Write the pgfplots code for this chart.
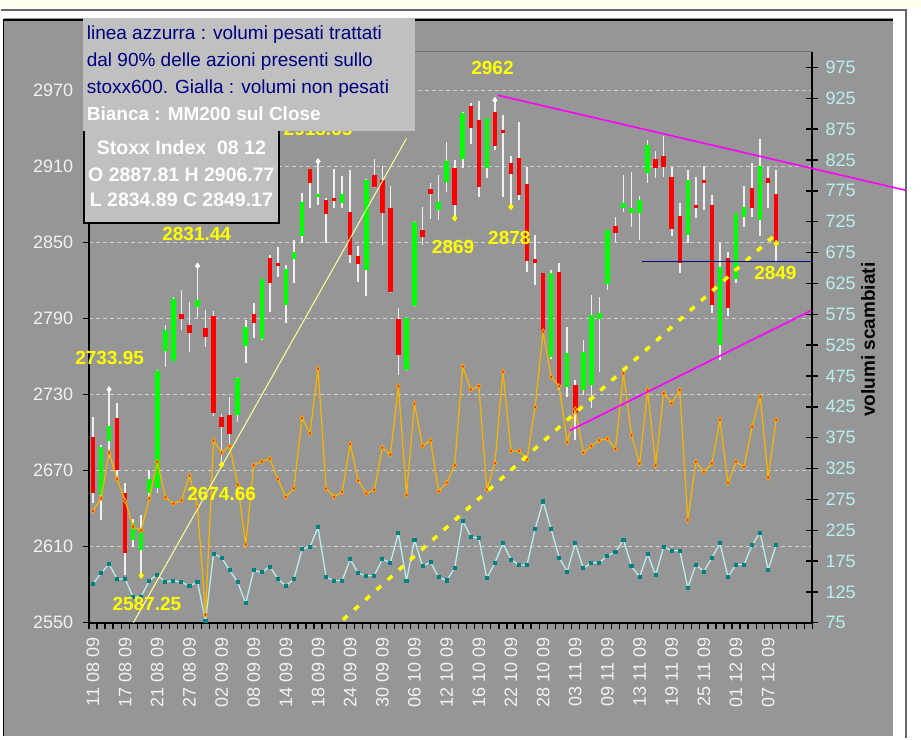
\documentclass[border=0pt]{standalone}
\usepackage{pgfplots}
\pgfplotsset{compat=1.18}
\usepackage{pgfplotstable}
\usepackage{fontspec}
\setmainfont{Liberation Sans}
\definecolor{bggray}{RGB}{150,150,150}
\definecolor{boxgray}{RGB}{192,192,192}
\definecolor{gridgray}{RGB}{205,205,205}
\definecolor{candred}{RGB}{255,0,0}
\definecolor{candgreen}{RGB}{0,255,0}
\definecolor{wick}{RGB}{240,240,240}
\definecolor{volorange}{RGB}{245,180,0}
\definecolor{volred}{RGB}{255,40,0}
\definecolor{cyanline}{RGB}{185,235,235}
\definecolor{tealmk}{RGB}{0,128,128}
\definecolor{navytext}{RGB}{0,0,128}
\definecolor{magentaline}{RGB}{255,0,255}
\definecolor{paleyellow}{RGB}{255,255,150}
\definecolor{annoyellow}{RGB}{255,255,0}
\definecolor{ticklight}{RGB}{242,242,242}
\definecolor{tickcyan}{RGB}{185,240,240}
\definecolor{topstrip}{RGB}{255,255,238}

\pgfplotstableread{
i O H L C
1 2650.8 2690.2 2631.1 2688.9
2 2693.4 2733.95 2680 2705.4
5 2615.4 2632 2610 2629
6 2607.5 2635 2587.25 2623.3
7 2652.2 2670.5 2648 2663.4
8 2656.1 2749.3 2652.2 2748.5
9 2764.4 2784.7 2751.9 2781
10 2756.4 2807 2756 2805
13 2799.2 2831.44 2790 2804.4
18 2713.8 2744 2708.6 2743.2
19 2768.2 2788.7 2754.6 2782.8
21 2773.5 2821 2773 2820.7
24 2800.5 2832 2786.5 2828.9
25 2836.5 2851.7 2817.6 2842.5
26 2854.8 2889 2849.6 2881.9
28 2886 2913.65 2879.3 2888
31 2881 2902 2876.7 2887.7
34 2828 2899.5 2807.6 2899
39 2749.3 2791 2748.5 2790.5
40 2799.7 2866.5 2799 2866.2
43 2875.3 2902.9 2867.5 2881.9
44 2897.6 2929.2 2889.7 2914.2
46 2915.3 2952.5 2908.2 2952
49 2908.7 2948 2900.3 2947.6
57 2759.8 2828 2758 2825.5
59 2736.2 2783.4 2728.3 2762.4
61 2733.5 2772.9 2729.6 2763.7
62 2737.5 2808.4 2719.1 2792.6
63 2789.2 2807 2748 2794.4
64 2817 2860 2812.3 2859.6
66 2876.7 2902.9 2874 2880.6
67 2872.7 2905.6 2862.2 2876.7
68 2872.7 2886.4 2851.7 2883.2
69 2904.8 2930.5 2896.4 2926.6
74 2855.6 2906.8 2849.1 2899
78 2769 2849.6 2757.2 2830.7
80 2820.7 2873 2817.6 2872.7
81 2870 2894.2 2861.7 2877.9
83 2867.5 2931 2854.8 2909.9
}\gcandles

\pgfplotstableread{
i O H L C
0 2696.7 2712.5 2644.3 2652.2
3 2711.2 2723.5 2664 2670.5
4 2652.2 2660 2588 2604.9
11 2793.4 2812.3 2780.8 2789.2
12 2784.7 2803 2763.7 2778.2
14 2782 2796.5 2767.6 2775.5
15 2791.8 2796 2713 2715.1
16 2712.5 2715 2674.66 2704.1
17 2713.8 2727.8 2691 2698.6
20 2793.4 2801.8 2774.2 2786.5
22 2837.3 2840 2795 2818.1
23 2833.4 2846.4 2822.8 2831.2
27 2907.4 2908 2876.7 2896.4
29 2883.5 2884.5 2849.6 2872.5
30 2885 2907.4 2876.7 2882.6
32 2874 2906.8 2833.8 2839.9
33 2839.1 2847 2818.8 2832.5
35 2902.9 2915.3 2893 2893.7
36 2899 2910 2847.7 2873.2
37 2876.7 2894.5 2810 2811
38 2789.2 2798.4 2745.4 2761.1
41 2859.6 2878 2847.7 2853.8
42 2891.7 2896.9 2868 2888
45 2908.2 2914.7 2869 2879.3
47 2957.2 2959.4 2927.3 2939.7
48 2946.2 2961.4 2885.3 2893.2
50 2952.8 2962 2923.1 2925.8
51 2938.3 2950.1 2885.3 2936.5
52 2912.7 2917.9 2878 2903.5
53 2916.6 2944.9 2883.2 2887.1
54 2895.7 2909 2826.7 2835.3
55 2836.5 2855.6 2816.3 2833.8
56 2825.5 2826 2776 2778.2
58 2826.7 2833.8 2733.5 2737.5
60 2737.5 2741.4 2694.2 2715.2
65 2862.7 2870 2850.3 2857.4
70 2915.3 2921.9 2900.3 2908.2
71 2917.9 2933.6 2901.6 2909
72 2901.6 2909 2854.8 2860.1
73 2870.8 2880.6 2825.5 2833.8
75 2879.3 2901.6 2868.8 2876.7
76 2899 2910 2875.3 2896.4
77 2879.3 2887.1 2794.4 2800.5
79 2837.3 2842.5 2791.8 2797.9
82 2892.5 2912.1 2870 2876.7
84 2900.3 2909 2876.7 2896.8
85 2887.81 2906.77 2834.89 2849.17
}\rcandles

\pgfplotstableread{
i v
0 256.5
1 276.5
2 350.8
3 307.7
4 272.7
5 230.6
6 224.8
7 276.5
8 335.7
9 278.6
10 267.8
11 273.3
12 313.7
13 263
14 88
15 370.2
16 350.8
17 361
18 299
19 202
20 330.3
21 336.3
22 341
23 307.7
24 279
25 292.7
26 406.8
27 382
28 487
29 292.7
30 279
31 287
32 364.8
33 305.5
34 284.6
35 290.4
36 358.8
37 347.6
38 458.5
39 282
40 430
41 361.5
42 370.5
43 288
44 302
45 330.3
46 490.3
47 453
48 458.5
49 291
50 333.6
51 481.7
52 353.5
53 353.5
54 340
55 424.6
56 547
57 473
58 458.5
59 367.5
60 421
61 350.8
62 361.5
63 370.7
64 373.4
65 356.7
66 479.3
67 378.8
68 333
69 452.3
70 330.3
71 447
72 430.5
73 452.3
74 241.4
75 335.7
76 319.5
77 333
78 404
79 301.8
80 335.7
81 327.6
82 392.8
83 441.2
84 310.5
85 404
}\volun

\pgfplotstableread{
i v
0 138
1 155.3
2 169.9
3 146
4 146
5 116.5
6 117.5
7 143.4
8 152.6
9 140.8
10 143.4
11 140.8
12 134.8
13 140.8
14 78
15 187
16 180.5
17 160
18 140.8
19 106.6
20 160
21 156.9
22 166
23 146
24 134.8
25 146
26 194
27 198.3
28 229.6
29 148.8
30 143.4
31 143.4
32 178
33 155.3
34 151.5
35 151.5
36 178
37 172.4
38 220
39 143.4
40 209.6
41 167
42 173
43 149
44 143.5
45 164
46 240.4
47 214.5
48 211.9
49 147.2
50 172
51 203.8
52 177.3
53 168.7
54 168.7
55 226.4
56 271.6
57 226.4
58 180.5
59 157.9
60 203.8
61 163.4
62 172.4
63 172.4
64 183.8
65 189.3
66 209.6
67 166.6
68 149.3
69 186.5
70 152
71 197.8
72 191.9
73 191.9
74 132
75 169.3
76 157.9
77 180.5
78 203.8
79 149.3
80 169.3
81 169.3
82 201
83 221
84 160.6
85 201
}\volw

\pgfplotsset{
  chartbox/.style={
    at={(88.3pt,115.7pt)}, anchor=south west, scale only axis,
    width=724pt, height=571.3pt,
    xmin=-0.5, xmax=89.5,
  },
  candle/.style 2 args={draw=none, mark=none, forget plot,
    error bars/.cd, y dir=both, y explicit, error mark=none,
    error bar style={draw=#1, line width=#2}},
}

\begin{document}
\begin{tikzpicture}
\fill[white] (0pt,0pt) rectangle (921pt,739pt);
\fill[topstrip] (0pt,731pt) rectangle (921pt,739pt);
\draw[line width=1.5pt, black!60] (0pt,729pt) -- (906pt,729pt) -- (906pt,0pt);
\fill[bggray] (3pt,2pt) rectangle (893pt,721pt);
\draw[line width=1.5pt, black] (3pt,2pt) -- (3pt,719pt) -- (893pt,719pt);

% price axis
\begin{axis}[
  chartbox,
  ymin=2550, ymax=3000,
  axis x line*=bottom, axis y line*=left,
  axis line style={line width=2pt, black},
  xtick={0,4,...,84},
  xticklabels={11 08 09, 17 08 09, 21 08 09, 27 08 09, 02 09 09, 08 09 09, 14 09 09, 18 09 09, 24 09 09, 30 09 09, 06 10 09, 12 10 09, 16 10 09, 22 10 09, 28 10 09, 03 11 09, 09 11 09, 13 11 09, 19 11 09, 25 11 09, 01 12 09, 07 12 09},
  minor xtick={-0.5,0.5,...,89.5},
  major x tick style={draw=none},
  minor tick length=6pt,
  major tick length=5.6pt,
  tick align=outside,
  tick style={black, line width=1.2pt},
  ytick={2550,2610,2670,2730,2790,2850,2910,2970},
  yticklabels={2550,2610,2670,2730,2790,2850,2910,2970},
  ymajorgrids,
  major grid style={gridgray, line width=1pt, dash pattern=on 4pt off 3pt},
  every tick label/.append style={font=\fontsize{18}{20}\selectfont},
  xticklabel style={rotate=90, anchor=east, inner sep=0pt, text=ticklight},
  xticklabel shift=9pt,
  yticklabel style={anchor=east, inner sep=0pt, text=ticklight},
  yticklabel shift=10pt,
]
\addplot[candle={wick}{1.6pt}]
  table[x=i, y expr={(\thisrow{H}+\thisrow{L})/2}, y error expr={(\thisrow{H}-\thisrow{L})/2}] {\gcandles};
\addplot[candle={wick}{1.6pt}]
  table[x=i, y expr={(\thisrow{H}+\thisrow{L})/2}, y error expr={(\thisrow{H}-\thisrow{L})/2}] {\rcandles};
\addplot[candle={candgreen}{4.5pt}]
  table[x=i, y expr={(\thisrow{O}+\thisrow{C})/2}, y error expr={abs(\thisrow{O}-\thisrow{C})/2}] {\gcandles};
\addplot[candle={candred}{4.5pt}]
  table[x=i, y expr={(\thisrow{O}+\thisrow{C})/2}, y error expr={abs(\thisrow{O}-\thisrow{C})/2}] {\rcandles};
\end{axis}

% volume axis
\begin{axis}[
  chartbox,
  ymin=75, ymax=1000,
  axis y line*=right, axis x line=none,
  axis line style={line width=2pt, black},
  ytick={75,125,...,975},
  yticklabels={75,125,175,225,275,325,375,425,475,525,575,625,675,725,775,825,875,925,975},
  tick align=center, major tick length=12pt,
  tick style={black, line width=1.4pt},
  yticklabel style={anchor=west, inner sep=0pt, text=tickcyan, font=\fontsize{18}{20}\selectfont},
  yticklabel shift=7pt,
]
\addplot[volorange, line width=1.3pt, mark=diamond*, mark size=2.4pt,
  mark options={fill=volred, draw=volorange, line width=0.7pt}] table[x=i, y=v] {\volun};
\addplot[cyanline, line width=1.3pt, mark=square*, mark size=1.4pt,
  mark options={fill=tealmk, draw=tealmk}] table[x=i, y=v] {\volw};
\end{axis}

% overlay axis
\begin{axis}[
  chartbox,
  ymin=2550, ymax=3000,
  hide axis, clip=false,
]
\draw[black!55, line width=1pt] (rel axis cs:0,1) -- (rel axis cs:1,1);
\addplot[paleyellow, line width=1pt] coordinates {(5.02,2550) (39,2931.8)};
\addplot[annoyellow, line width=3.5pt, dash pattern=on 6pt off 9pt] coordinates {(31.1,2552.4) (84.6,2854.3)};
\addplot[magentaline, line width=1.6pt] coordinates {(50.35,2965.9) (101.1,2891)};
\addplot[magentaline, line width=1.6pt] coordinates {(59.3,2701.5) (89.3,2796)};
\addplot[navytext, line width=1.6pt] coordinates {(68.3,2834.89) (89.3,2834.89)};
\addplot[only marks, mark=diamond*, mark size=3pt, white] coordinates {(2,2733.95) (13,2831.44) (28,2913.65) (50,2962)};
\addplot[only marks, mark=diamond*, mark size=3.2pt, annoyellow] coordinates {(6,2587.25) (16,2674.66) (45,2869) (52,2878) (85,2849.17)};
\begin{scope}[every node/.style={text=annoyellow, font=\bfseries\fontsize{19}{21}\selectfont, inner sep=0pt}]
\node at (axis cs:2.07,2758.8) {2733.95};
\node at (axis cs:12.9,2856.6) {2831.44};
\node at (axis cs:28,2939.3) {2913.65};
\node at (axis cs:49.7,2987.4) {2962};
\node at (axis cs:44.8,2846.3) {2869};
\node at (axis cs:51.8,2853.4) {2878};
\node at (axis cs:84.9,2825.8) {2849};
\node at (axis cs:16,2651.7) {2674.66};
\node at (axis cs:6.7,2565) {2587.25};
\end{scope}
\end{axis}

% right axis title
\node[rotate=90, font=\bfseries\fontsize{19}{21}\selectfont, text=black] at (868pt,399pt) {volumi scambiati};

% info box 2
\fill[boxgray] (83.3pt,515.7pt) rectangle (278.3pt,614pt);
\draw[black, line width=2pt] (83.3pt,614pt) -- (83.3pt,515.7pt) -- (278.3pt,515.7pt) -- (278.3pt,614pt);
\begin{scope}[every node/.style={text=white, font=\bfseries\fontsize{19.5}{22}\selectfont, inner sep=0pt, anchor=base}]
\node at (180.8pt,584.2pt) {Stoxx Index\ \ 08 12};
\node at (180.8pt,557.2pt) {O 2887.81 H 2906.77};
\node at (180.8pt,532.2pt) {L 2834.89 C 2849.17};
\end{scope}

% info box 1
\fill[boxgray] (82pt,607.5pt) rectangle (415pt,721pt);
\begin{scope}[every node/.style={font=\fontsize{19}{22}\selectfont, inner sep=0pt, anchor=base west}]
\node[text=navytext] at (86pt,699.2pt) {linea azzurra : volumi pesati trattati};
\node[text=navytext] at (86pt,672.5pt) {dal 90\% delle azioni presenti sullo};
\node[text=navytext] at (86pt,645.2pt) {stoxx600. Gialla : volumi non pesati};
\node[text=white, font=\bfseries\fontsize{19}{22}\selectfont] at (86pt,618.5pt) {Bianca : MM200 sul Close};
\end{scope}
\end{tikzpicture}
\end{document}
